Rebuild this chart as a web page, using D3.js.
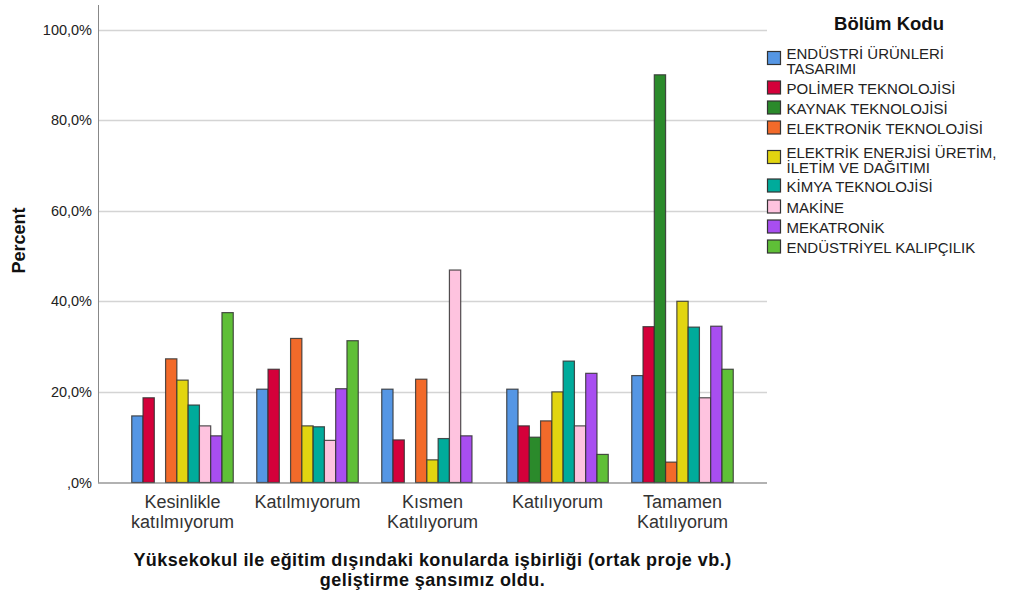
<!DOCTYPE html>
<html>
<head>
<meta charset="utf-8">
<script src="https://cdn.jsdelivr.net/npm/d3@7"></script>
<style>
  html, body { margin: 0; padding: 0; background: #fff; }
  svg { display: block; font-family: Arial, "Liberation Sans", sans-serif; }
</style>
</head>
<body>
<svg id="chart" width="1010" height="592"></svg>
<script>
// ---- data ----
const categories = [
  ["Kesinlikle", "katılmıyorum"],
  ["Katılmıyorum"],
  ["Kısmen", "Katılıyorum"],
  ["Katılıyorum"],
  ["Tamamen", "Katılıyorum"]
];
const seriesNames = [
  ["ENDÜSTRİ ÜRÜNLERİ", "TASARIMI"],
  ["POLİMER TEKNOLOJİSİ"],
  ["KAYNAK TEKNOLOJİSİ"],
  ["ELEKTRONİK TEKNOLOJİSİ"],
  ["ELEKTRİK ENERJİSİ ÜRETİM,", "İLETİM VE DAĞITIMI"],
  ["KİMYA TEKNOLOJİSİ"],
  ["MAKİNE"],
  ["MEKATRONİK"],
  ["ENDÜSTRİYEL KALIPÇILIK"]
];
const seriesColors = ["#5596e4", "#d4003a", "#2b8a2b", "#f26a2a", "#e2d510", "#00ab9b", "#fec3df", "#a84ef0", "#5fbf37"];
// values[series][category] in percent (0 = no bar)
const endustriUrunleri   = [14.7, 20.6, 20.6, 20.6, 23.6];
const polimer            = [18.7, 25.0,  9.4, 12.5, 34.4];
const kaynak             = [ 0,    0,    0,   10.0, 90.0];
const elektronik         = [27.3, 31.8, 22.8, 13.6,  4.5];
const elektrik           = [22.6, 12.5,  5.0, 20.0, 40.0];
const kimya              = [17.1, 12.3,  9.7, 26.8, 34.3];
const makine             = [12.5,  9.3, 46.9, 12.5, 18.7];
const mekatronik         = [10.3, 20.7, 10.3, 24.1, 34.5];
const kalipcilik         = [37.5, 31.3,  0,    6.2, 25.0];
const seriesValues = [endustriUrunleri, polimer, kaynak, elektronik, elektrik, kimya, makine, mekatronik, kalipcilik];
const yTicks = [0, 20, 40, 60, 80, 100];
const yTickLabels = [",0%", "20,0%", "40,0%", "60,0%", "80,0%", "100,0%"];
const yTitle = "Percent";
const xTitle = ["Yüksekokul ile eğitim dışındaki konularda işbirliği (ortak proje vb.)", "geliştirme şansımız oldu."];
const legendTitle = "Bölüm Kodu";

// ---- layout ----
const svg = d3.select("#chart");
const plot = { left: 98, right: 767, top: 5, bottom: 482.5 };

const y = d3.scaleLinear().domain([0, 100]).range([482.5, 29.5]);
const x0 = d3.scaleBand().domain(d3.range(categories.length))
  .range([plot.left, plot.right]).paddingInner(0.188).paddingOuter(0.27);
const x1 = d3.scaleBand().domain(d3.range(seriesNames.length))
  .range([0, x0.bandwidth()]).padding(0);

// gridlines
svg.append("g").selectAll("line").data(yTicks.filter(d => d > 0)).join("line")
  .attr("x1", plot.left).attr("x2", plot.right)
  .attr("y1", d => Math.round(y(d)) + 0.5).attr("y2", d => Math.round(y(d)) + 0.5)
  .attr("stroke", "#d4d4d4").attr("stroke-width", 1.5);

// y axis
const yAxis = d3.axisLeft(y).tickValues(yTicks).tickSize(0).tickPadding(6)
  .tickFormat((d, i) => yTickLabels[i]);
const gy = svg.append("g").attr("transform", `translate(${plot.left},0)`).call(yAxis);
gy.select(".domain").remove();
gy.selectAll("text").attr("font-size", 14.5).attr("fill", "#222")
  .attr("font-family", "Arial, 'Liberation Sans', sans-serif");
svg.append("line").attr("x1", plot.left + 0.5).attr("x2", plot.left + 0.5)
  .attr("y1", plot.top).attr("y2", plot.bottom).attr("stroke", "#888").attr("stroke-width", 1);

// bars
const groups = svg.append("g").selectAll("g").data(categories).join("g")
  .attr("transform", (d, i) => `translate(${x0(i)},0)`);
groups.selectAll("rect")
  .data((d, ci) => seriesValues.map((vals, si) => ({ si, v: vals[ci] })).filter(o => o.v > 0))
  .join("rect")
  .attr("x", d => x1(d.si))
  .attr("width", x1.bandwidth())
  .attr("y", d => y(d.v))
  .attr("height", d => y(0) - y(d.v))
  .attr("fill", d => seriesColors[d.si])
  .attr("stroke", "#333").attr("stroke-opacity", 0.85).attr("stroke-width", 1.2);

// x baseline
svg.append("line").attr("x1", plot.left).attr("x2", plot.right)
  .attr("y1", plot.bottom + 0.5).attr("y2", plot.bottom + 0.5)
  .attr("stroke", "#666").attr("stroke-width", 1.2);

// x axis labels
const xAxis = d3.axisBottom(x0).tickSize(0).tickFormat(() => "");
const gx = svg.append("g").attr("transform", `translate(0,${plot.bottom})`).call(xAxis);
gx.select(".domain").remove();
gx.selectAll(".tick").each(function(d) {
  const t = d3.select(this).append("text")
    .attr("text-anchor", "middle").attr("fill", "#333")
    .attr("font-size", 18).attr("font-family", "Arial, 'Liberation Sans', sans-serif");
  categories[d].forEach((line, k) => {
    t.append("tspan").attr("x", 0).attr("y", 25 + k * 20).text(line);
  });
});

// axis titles
svg.append("text").attr("transform", "translate(24.5,240.5) rotate(-90)")
  .attr("text-anchor", "middle").attr("font-weight", "bold").attr("font-size", 18)
  .attr("fill", "#111").text(yTitle);
const xMid = (plot.left + plot.right) / 2;
xTitle.forEach((line, k) => svg.append("text")
  .attr("text-anchor", "middle").attr("font-weight", "bold")
  .attr("font-size", 18).attr("letter-spacing", 0.45).attr("fill", "#111")
  .attr("x", xMid).attr("y", 565.5 + k * 20.3).text(line));

// legend
svg.append("text").attr("x", 889).attr("y", 30).attr("text-anchor", "middle")
  .attr("font-weight", "bold").attr("font-size", 18.5).attr("fill", "#111").text(legendTitle);
const legendCenters = [58.5, 88, 108, 128, 157.5, 186, 207, 227, 247];
const lg = svg.append("g").selectAll("g").data(seriesNames).join("g")
  .attr("transform", (d, i) => `translate(767,${legendCenters[i]})`);
lg.append("rect").attr("x", 0.5).attr("y", -7).attr("width", 13).attr("height", 13)
  .attr("fill", (d, i) => seriesColors[i]).attr("stroke", "#333").attr("stroke-width", 1.2);
lg.append("text").attr("font-size", 15).attr("fill", "#222")
  .each(function(d) {
    const t = d3.select(this);
    const n = d.length;
    d.forEach((line, k) => {
      t.append("tspan").attr("x", 19.5)
        .attr("y", n === 1 ? 5.5 : (k * 15 + 0.5)).text(line);
    });
  });
</script>
</body>
</html>
